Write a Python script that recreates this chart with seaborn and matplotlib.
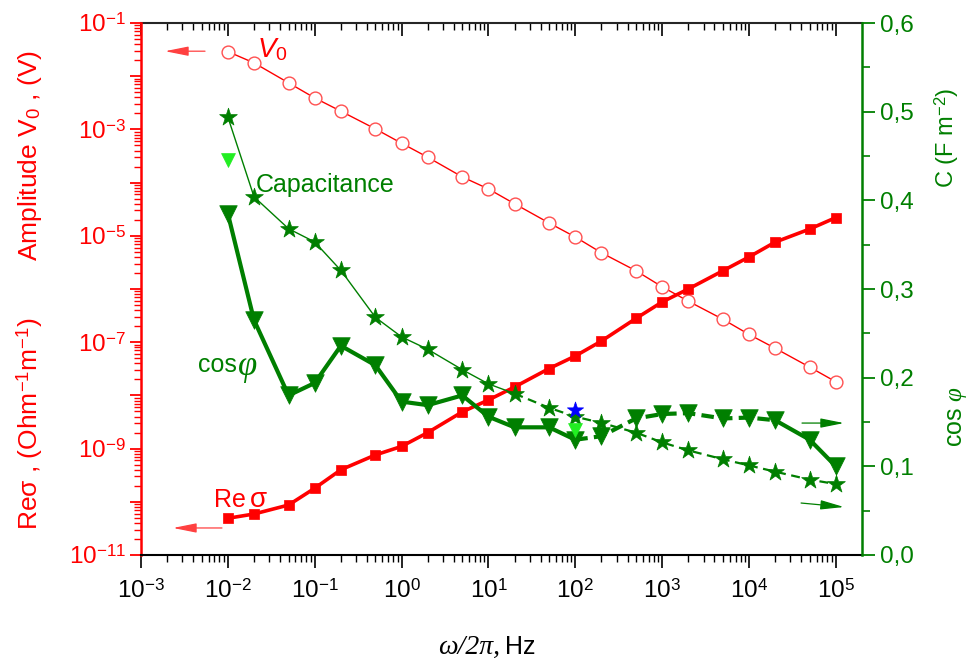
import numpy as np
import matplotlib
matplotlib.use("Agg")
import matplotlib.pyplot as plt
import seaborn as sns
from matplotlib.ticker import FixedLocator, FixedFormatter, NullFormatter

# ---------------- data ----------------
freq = [0.01, 0.02, 0.05, 0.1, 0.2, 0.5, 1, 2, 5, 10, 20, 50, 100, 200,
        500, 1000, 2000, 5000, 1e4, 2e4, 5e4, 1e5]
v0 = [2.9e-2, 1.78e-2, 7.5e-3, 3.9e-3, 2.2e-3, 1.02e-3, 5.5e-4, 3.0e-4,
      1.28e-4, 7.6e-5, 4.0e-5, 1.74e-5, 9.5e-6, 4.8e-6, 2.2e-6, 1.1e-6,
      5.9e-7, 2.7e-7, 1.4e-7, 7.7e-8, 3.4e-8, 1.8e-8]
re_sigma = [4.9e-11, 5.9e-11, 8.7e-11, 1.8e-10, 4.0e-10, 7.6e-10, 1.1e-9,
            2.0e-9, 4.9e-9, 8.2e-9, 1.44e-8, 3.2e-8, 5.5e-8, 1.05e-7,
            2.8e-7, 5.7e-7, 1.0e-6, 2.2e-6, 4.0e-6, 7.6e-6, 1.34e-5, 2.2e-5]
capacitance = [0.494, 0.404, 0.368, 0.353, 0.321, 0.268, 0.246, 0.232,
               0.209, 0.193, 0.182, 0.166, 0.156, 0.149, 0.138, 0.127,
               0.118, 0.108, 0.101, 0.094, 0.085, 0.080]
cos_phi = [0.385, 0.265, 0.180, 0.194, 0.236, 0.214, 0.173, 0.169, 0.180,
           0.156, 0.144, 0.144, 0.130, 0.134, 0.154, 0.159, 0.160, 0.154,
           0.155, 0.152, 0.130, 0.100]
extra_tri_x = [0.01, 100]
extra_tri_y = [0.445, 0.141]
blue_star_x = [100]
blue_star_y = [0.164]

xtick_vals = [1e-3, 1e-2, 1e-1, 1e0, 1e1, 1e2, 1e3, 1e4, 1e5]
xtick_labels = ["$10^{-3}$", "$10^{-2}$", "$10^{-1}$", "$10^{0}$", "$10^{1}$",
                "$10^{2}$", "$10^{3}$", "$10^{4}$", "$10^{5}$"]
ylog_exps = list(range(-11, 0))
ylog_labels = ["$10^{%d}$" % e if e % 2 else "" for e in ylog_exps]
yright_vals = [0.0, 0.1, 0.2, 0.3, 0.4, 0.5, 0.6]
yright_labels = ["0,0", "0,1", "0,2", "0,3", "0,4", "0,5", "0,6"]

RED = "#ff0000"
GREEN = "#007f00"

# ---------------- style ----------------
sns.set_style("ticks")
plt.rcParams["font.family"] = ["Liberation Sans", "DejaVu Sans"]
plt.rcParams["mathtext.fontset"] = "custom"
plt.rcParams["mathtext.rm"] = "Liberation Sans"
plt.rcParams["mathtext.it"] = "Liberation Serif:italic"
plt.rcParams["mathtext.sf"] = "Liberation Sans:italic"

W, H = 973, 662
fig = plt.figure(figsize=(W / 100, H / 100), dpi=100)
ax = fig.add_axes([141 / W, 107 / H, 721 / W, 532 / H])
ax.set_xscale("log")
ax.set_yscale("log")
ax.set_xlim(1e-3, 2e5)
ax.set_ylim(1e-11, 1e-1)

# left axis series
sns.lineplot(x=freq, y=v0, ax=ax, color=RED, lw=1.0, zorder=2)
sns.scatterplot(x=freq, y=v0, ax=ax, marker="o", s=85, color="white",
                edgecolor="#ff5050", linewidth=1.0, zorder=3)
sns.lineplot(x=freq, y=re_sigma, ax=ax, color=RED, lw=2.6, zorder=2)
sns.scatterplot(x=freq, y=re_sigma, ax=ax, marker="s", s=55, color=RED,
                edgecolor=RED, linewidth=0.5, zorder=3)

# right axis
ax2 = ax.twinx()
ax2.set_ylim(0, 0.6)
sns.lineplot(x=freq[:11], y=capacitance[:11], ax=ax2, color=GREEN, lw=1.0)
sns.lineplot(x=freq[10:], y=capacitance[10:], ax=ax2, color=GREEN, lw=1.6,
             linestyle=(0, (4, 2.5)))
sns.scatterplot(x=freq, y=capacitance, ax=ax2, marker="*", s=180,
                color=GREEN, edgecolor=GREEN, linewidth=0.5, zorder=4)
sns.lineplot(x=freq[:13], y=cos_phi[:13], ax=ax2, color=GREEN, lw=3.0)
sns.lineplot(x=freq[12:20], y=cos_phi[12:20], ax=ax2, color=GREEN, lw=3.0,
             linestyle=(0, (3, 1.5)))
sns.lineplot(x=freq[19:], y=cos_phi[19:], ax=ax2, color=GREEN, lw=3.0)
sns.scatterplot(x=freq, y=cos_phi, ax=ax2, marker="v", s=160, color=GREEN,
                edgecolor=GREEN, linewidth=0.5, zorder=4)
sns.scatterplot(x=extra_tri_x, y=extra_tri_y, ax=ax2, marker="v", s=100,
                color="#22ee22", edgecolor="#22ee22", linewidth=0.5, zorder=5)
sns.scatterplot(x=blue_star_x, y=blue_star_y, ax=ax2, marker="*", s=150,
                color="#0000ff", edgecolor="#0000ff", linewidth=0.5, zorder=5)

# ---------------- axes styling ----------------
TS = 17.5
ax.xaxis.set_major_locator(FixedLocator(xtick_vals))
ax.xaxis.set_major_formatter(FixedFormatter(xtick_labels))
minor_x = [k * 10.0 ** e for e in range(-3, 6) for k in range(2, 10)]
minor_x = [m for m in minor_x if m < 2e5]
ax.xaxis.set_minor_locator(FixedLocator(minor_x))
ax.xaxis.set_minor_formatter(NullFormatter())
ax.tick_params(axis="x", which="major", direction="out", length=9, width=1.2,
               colors="black", labelsize=TS, pad=8)
ax.tick_params(axis="x", which="minor", direction="out", length=5, width=1.0,
               colors="black")

ax.yaxis.set_major_locator(FixedLocator([10.0 ** e for e in ylog_exps]))
ax.yaxis.set_major_formatter(FixedFormatter(ylog_labels))
minor_y = [k * 10.0 ** e for e in range(-11, -1) for k in range(2, 10)]
ax.yaxis.set_minor_locator(FixedLocator(minor_y))
ax.yaxis.set_minor_formatter(NullFormatter())
ax.tick_params(axis="y", which="major", direction="out", length=8, width=1.3,
               colors=RED, labelsize=TS, pad=3)
ax.tick_params(axis="y", which="minor", direction="out", length=5, width=1.0,
               colors=RED)

ax2.yaxis.set_major_locator(FixedLocator(yright_vals))
ax2.yaxis.set_major_formatter(FixedFormatter(yright_labels))
ax2.yaxis.set_minor_locator(FixedLocator([0.05, 0.15, 0.25, 0.35, 0.45, 0.55]))
ax2.tick_params(axis="y", which="major", direction="out", length=9, width=1.3,
                colors=GREEN, labelsize=TS, pad=4)
ax2.tick_params(axis="y", which="minor", direction="out", length=6, width=1.2,
                colors=GREEN)
ax2.set_ylabel("")

sec = ax.secondary_xaxis("top")
sec.xaxis.set_major_locator(FixedLocator(xtick_vals))
sec.xaxis.set_major_formatter(NullFormatter())
sec.xaxis.set_minor_locator(FixedLocator(minor_x))
sec.xaxis.set_minor_formatter(NullFormatter())
sec.tick_params(axis="x", which="major", direction="in", length=9, width=1.2,
                colors="black")
sec.tick_params(axis="x", which="minor", direction="in", length=5, width=1.0,
                colors="black")
sec.spines["top"].set_linewidth(1.5)

for a in (ax, ax2):
    a.spines["top"].set_visible(False)
ax.spines["right"].set_visible(False)
ax2.spines["left"].set_visible(False)
ax2.spines["bottom"].set_visible(False)
ax.spines["left"].set_color(RED)
ax.spines["left"].set_linewidth(1.8)
ax.spines["bottom"].set_color("black")
ax.spines["bottom"].set_linewidth(1.5)
ax2.spines["right"].set_color(GREEN)
ax2.spines["right"].set_linewidth(1.8)
ax.set_xlabel("")
ax.set_ylabel("")

# ---------------- labels ----------------
def fx(px):
    return px / W


def fy(py):
    return 1 - py / H


fig.text(fx(30), fy(156), r"Amplitude $\mathrm{V}_0$ , (V)", rotation=90,
         ha="center", va="center", color=RED, fontsize=19)
fig.text(fx(30), fy(424), r"Reσ , (Ohm$^{-1}$m$^{-1}$)",
         rotation=90, ha="center", va="center", color=RED, fontsize=19)
fig.text(fx(947), fy(138), r"C (F m$^{-2}$)", rotation=90, ha="center",
         va="center", color=GREEN, fontsize=17)
fig.text(fx(957), fy(417), r"cos $\varphi$", rotation=90, ha="center",
         va="center", color=GREEN, fontsize=18)

fig.text(fx(500), fy(654), "ω/2π,", ha="right", va="baseline",
         family="Liberation Serif", style="italic", fontsize=20, color="black")
fig.text(fx(505), fy(654), "Hz", ha="left", va="baseline", fontsize=18,
         color="black")

# annotations
fig.text(fx(257), fy(57), r"$\mathsf{V}_0$", ha="left", va="baseline",
         color=RED, fontsize=20)
fig.text(fx(256), fy(192), "Capacitance", ha="left", va="baseline",
         color=GREEN, fontsize=18)
fig.text(fx(198), fy(372), "cos", ha="left", va="baseline", color=GREEN,
         fontsize=18)
fig.text(fx(238), fy(375), "φ", ha="left", va="baseline", color=GREEN,
         family="Liberation Serif", style="italic", fontsize=25)
fig.text(fx(214), fy(507), "Re", ha="left", va="baseline", color=RED,
         fontsize=18)
fig.text(fx(250), fy(507), "σ", ha="left", va="baseline", color=RED,
         fontsize=20)

# arrows (axes-fraction positions)
def arrow(x0, y0, x1, y1, color):
    ax2.annotate("", xy=(x1, y1), xytext=(x0, y0), xycoords="axes fraction",
                 textcoords="axes fraction",
                 arrowprops=dict(arrowstyle="-|>,head_length=1.1,head_width=0.22",
                                 color=color, lw=0.9, shrinkA=0, shrinkB=0,
                                 mutation_scale=13))


arrow(0.0888, 0.947, 0.0333, 0.947, "#ff4040")
arrow(0.1123, 0.0508, 0.0444, 0.0508, "#ff4040")
arrow(0.9168, 0.248, 0.975, 0.248, GREEN)
arrow(0.9155, 0.0977, 0.975, 0.0902, GREEN)

fig.savefig("out.png", dpi=100)
